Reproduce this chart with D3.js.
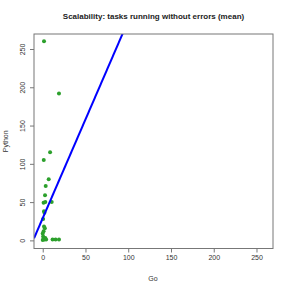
<!DOCTYPE html>
<html><head><meta charset="utf-8">
<script src="https://cdn.jsdelivr.net/npm/d3@7/dist/d3.min.js"></script>
<style>body{margin:0;background:#fff}svg{display:block}text{font-family:"Liberation Sans",Arial,sans-serif}</style>
</head><body>
<script>
const title = "Scalability: tasks running without errors (mean)";
const xLabel = "Go";
const yLabel = "Python";
const goValues =     [1.5, 19, 8.6, 1.2, 7, 3.5, 2.7, 1, 3, 10.5, 1.5, 2, 0.5, 1.5, 2.5, 1, 0, 0.5, 1, 2, 3, 4, 0, 11.5, 15, 19];
const pythonValues = [260, 192, 115, 105, 80, 71, 59, 49, 50, 50, 38, 36, 28, 18, 16, 12, 9, 5, 2, 1, 3, 1, 0.5, 1, 1, 1];
const xTicks = [0, 50, 100, 150, 200, 250];
const yTicks = [0, 50, 100, 150, 200, 250];
const fitIntercept = 29;
const fitSlope = 2.58;

const W = 291, H = 291;
const m = {left: 34, right: 273, top: 34, bottom: 248.5};
const svg = d3.select("body").append("svg").attr("width", W).attr("height", H);

const x = d3.scaleLinear().domain([-10.2, 269.3]).range([m.left, m.right]);
const y = d3.scaleLinear().domain([-10.6, 269.6]).range([m.bottom, m.top]);

svg.append("defs").append("clipPath").attr("id", "clip")
  .append("rect").attr("x", m.left).attr("y", m.top)
  .attr("width", m.right - m.left).attr("height", m.bottom - m.top);

// points
svg.append("g").selectAll("circle").data(goValues.map((g, i) => [g, pythonValues[i]]))
  .join("circle")
  .attr("cx", d => x(d[0])).attr("cy", d => y(d[1])).attr("r", 2)
  .attr("fill", "#2ca02c");

// fit line
const xd = x.domain();
svg.append("line").attr("clip-path", "url(#clip)")
  .attr("x1", x(xd[0])).attr("y1", y(fitIntercept + fitSlope * xd[0]))
  .attr("x2", x(xd[1])).attr("y2", y(fitIntercept + fitSlope * xd[1]))
  .attr("stroke", "#0000ff").attr("stroke-width", 2);

// box
svg.append("rect").attr("x", m.left).attr("y", m.top)
  .attr("width", m.right - m.left).attr("height", m.bottom - m.top)
  .attr("fill", "none").attr("stroke", "#777").attr("stroke-width", 1);

// x axis
const gx = svg.append("g").attr("transform", `translate(0,${m.bottom})`)
  .call(d3.axisBottom(x).tickValues(xTicks).tickSize(4).tickPadding(3));
gx.select(".domain").remove();
gx.selectAll("line").attr("stroke", "#777");
gx.selectAll("text").attr("font-size", 7).attr("fill", "#333").attr("font-family", "Liberation Sans, Arial, sans-serif");

// y axis
const gy = svg.append("g").attr("transform", `translate(${m.left},0)`)
  .call(d3.axisLeft(y).tickValues(yTicks).tickSize(4));
gy.select(".domain").remove();
gy.selectAll("line").attr("stroke", "#777");
gy.selectAll("text").attr("font-size", 7).attr("fill", "#333").attr("font-family", "Liberation Sans, Arial, sans-serif")
  .attr("x", null).attr("dy", null)
  .attr("text-anchor", "middle")
  .attr("transform", "translate(-9.5,0) rotate(-90)");

// labels
svg.append("text").attr("x", 153.5).attr("y", 19).attr("text-anchor", "middle")
  .attr("font-size", 8).attr("font-weight", "bold").attr("fill", "#222").text(title);
svg.append("text").attr("x", 153).attr("y", 280.5).attr("text-anchor", "middle")
  .attr("font-size", 7).attr("fill", "#333").text(xLabel);
svg.append("text").attr("transform", `translate(7.8,${(m.top + m.bottom) / 2}) rotate(-90)`)
  .attr("text-anchor", "middle").attr("font-size", 7).attr("fill", "#333").text(yLabel);
</script>
</body></html>
